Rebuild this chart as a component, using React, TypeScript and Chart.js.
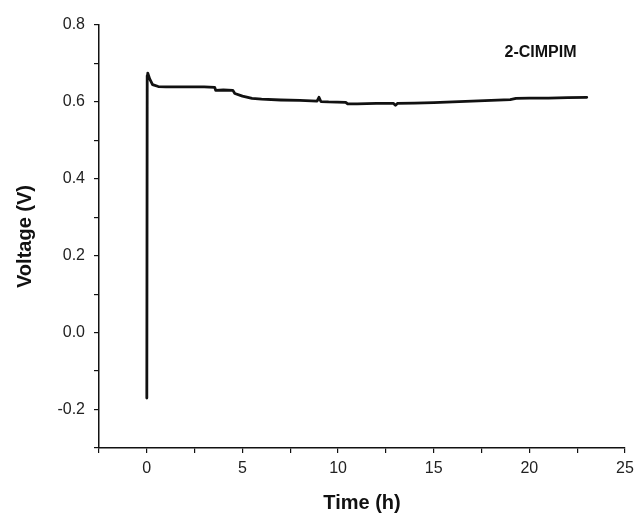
import React, { useEffect, useRef } from "react";
import { Chart, registerables } from "chart.js";

Chart.register(...registerables);

// Discharge voltage trace (time in hours, voltage in volts)
const timeHours = [
  0, 0.02, 0.05, 0.15, 0.3, 0.6, 1, 2, 3, 3.55, 3.6, 4, 4.5, 4.6, 5, 5.5, 6, 7, 8,
  8.9, 9.0, 9.1, 9.5, 10.4, 10.5, 11, 12, 12.9, 13.0, 13.1, 14, 15, 16, 17, 18, 19,
  19.3, 20, 21, 22, 23,
];
const voltageV = [
  -0.17, 0.668, 0.675, 0.66, 0.645, 0.64, 0.639, 0.639, 0.639, 0.638, 0.63, 0.631,
  0.63, 0.622, 0.615, 0.609, 0.607, 0.605, 0.604, 0.602, 0.612, 0.601, 0.6, 0.599,
  0.595, 0.595, 0.596, 0.596, 0.591, 0.596, 0.597, 0.598, 0.6, 0.602, 0.604, 0.606,
  0.609, 0.61, 0.61, 0.611, 0.612,
];

const seriesLabel = "2-CIMPIM";
const xTitle = "Time (h)";
const yTitle = "Voltage (V)";

const FONT = "'Liberation Sans', Arial, sans-serif";
const INK = "#111";

// Label placed inside the plot area, anchored in data coordinates
const seriesTag = {
  id: "seriesTag",
  afterDatasetsDraw(chart: any) {
    const { ctx, scales } = chart;
    const x = scales.x.getPixelForValue(18.7);
    const y = scales.y.getPixelForValue(0.729);
    ctx.save();
    ctx.fillStyle = INK;
    ctx.font = `bold 16px ${FONT}`;
    ctx.textAlign = "left";
    ctx.textBaseline = "middle";
    ctx.fillText(seriesLabel, x, y);
    ctx.restore();
  },
};

export default function App() {
  const canvasRef = useRef<HTMLCanvasElement | null>(null);

  useEffect(() => {
    if (!canvasRef.current) return;
    const points = timeHours.map((t, i) => ({ x: t, y: voltageV[i] }));
    const chart = new Chart(canvasRef.current, {
      type: "line",
      data: {
        datasets: [
          {
            label: seriesLabel,
            data: points,
            borderColor: INK,
            borderWidth: 2.8,
            borderJoinStyle: "round",
            borderCapStyle: "round",
            pointRadius: 0,
            tension: 0,
            fill: false,
          },
        ],
      },
      options: {
        animation: false,
        responsive: true,
        maintainAspectRatio: false,
        layout: { padding: { left: 9, right: 10, top: 25, bottom: 0 } },
        plugins: {
          legend: { display: false },
          tooltip: { enabled: false },
        },
        scales: {
          x: {
            type: "linear",
            min: -2.5,
            max: 25,
            afterFit(scale: any) {
              scale.height = 69;
              scale.paddingRight = 0;
              scale.paddingLeft = 0;
            },
            border: { display: true, color: INK, width: 1.5 },
            grid: {
              display: true,
              drawOnChartArea: false,
              drawTicks: true,
              tickLength: 5,
              color: INK,
              lineWidth: 1.2,
            },
            ticks: {
              stepSize: 2.5,
              autoSkip: false,
              maxRotation: 0,
              padding: 6,
              color: "#222",
              font: { family: FONT, size: 16 },
              callback: (v: any) => {
                const n = Number(v);
                return Math.abs(n % 5) < 1e-9 ? String(n) : "";
              },
            },
            title: {
              display: true,
              text: xTitle,
              color: INK,
              font: { family: FONT, size: 20, weight: "bold" },
              padding: { top: 4, bottom: 2 },
            },
          },
          y: {
            type: "linear",
            min: -0.3,
            max: 0.8,
            afterFit(scale: any) {
              scale.width = 90;
            },
            border: { display: true, color: INK, width: 1.5 },
            grid: {
              display: true,
              drawOnChartArea: false,
              drawTicks: true,
              tickLength: 5,
              color: INK,
              lineWidth: 1.2,
            },
            ticks: {
              stepSize: 0.1,
              autoSkip: false,
              padding: 9,
              color: "#222",
              font: { family: FONT, size: 16 },
              callback: (v: any) => {
                const r = Math.round(Number(v) * 10);
                return r % 2 === 0 ? (r / 10).toFixed(1) : "";
              },
            },
            title: {
              display: true,
              text: yTitle,
              color: INK,
              font: { family: FONT, size: 20, weight: "bold" },
              padding: { top: 4, bottom: 4 },
            },
          },
        },
      },
      plugins: [seriesTag],
    });
    return () => chart.destroy();
  }, []);

  return (
    <div
      style={{
        position: "absolute",
        left: 0,
        top: 0,
        width: 635,
        height: 517,
        background: "#fff",
      }}
    >
      <canvas ref={canvasRef} />
    </div>
  );
}
